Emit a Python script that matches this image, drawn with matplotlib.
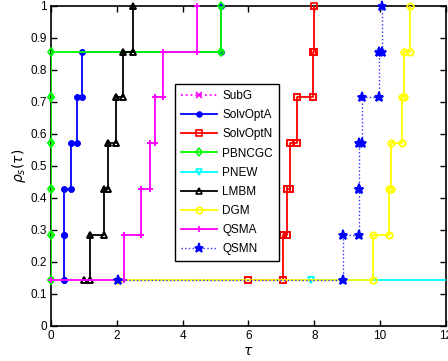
import matplotlib
matplotlib.use('Agg')
import matplotlib.pyplot as plt
import numpy as np

plt.rcParams['font.family'] = ['Liberation Sans', 'DejaVu Sans']

solvers = ['SubG', 'SolvOptA', 'SolvOptN', 'PBNCGC', 'PNEW', 'LMBM', 'DGM', 'QSMA', 'QSMN']
nan = np.nan

# log2 performance ratios for the 7 problems (nan = failed)
ratios = {
    'SubG':     [nan, nan, nan, nan, nan, nan, nan],
    'SolvOptA': [0.38, 0.38, 0.38, 0.6, 0.8, 0.95, 5.17],
    'SolvOptN': [6.0, 7.06, 7.18, 7.25, 7.48, 7.95, 8.0],
    'PBNCGC':   [0, 0, 0, 0, 0, 0, 5.17],
    'PNEW':     [7.9, nan, nan, nan, nan, nan, nan],
    'LMBM':     [1.01, 1.2, 1.6, 1.74, 1.97, 2.2, 2.48],
    'DGM':      [2.05, 9.77, 10.28, 10.33, 10.66, 10.74, 10.91],
    'QSMA':     [0, 2.22, 2.74, 3.0, 3.15, 3.39, 4.43],
    'QSMN':     [2.05, 8.87, 9.36, 9.36, 9.45, 9.97, 10.05],
}

styles = {
    'SubG':     dict(color='#ff00ff', ls=':', marker='x', mfc='#ff00ff'),
    'SolvOptA': dict(color='#0000ff', ls='-', marker='o', mfc='#0000ff', ms=3.5),
    'SolvOptN': dict(color='#ff0000', ls='-', marker='s', mfc='none'),
    'PBNCGC':   dict(color='#00ff00', ls='-', marker='d', mfc='none'),
    'PNEW':     dict(color='#00ffff', ls='-', marker='v', mfc='none'),
    'LMBM':     dict(color='k', ls='-', marker='^', mfc='none'),
    'DGM':      dict(color='#ffff00', ls='-', marker='o', mfc='none'),
    'QSMA':     dict(color='#ff00ff', ls='-', marker='+', mfc='#ff00ff'),
    'QSMN':     dict(color='#3030ff', ls=':', marker='*', mfc='#0000ff', mec='#0000ff', ms=6.5, lw=1.0),
}

fig = plt.figure(figsize=(4.48, 3.61), dpi=100)
ax = fig.add_axes([51/448, 1-326/361, 395/448, 320/361])

r_all = np.array([ratios[s] for s in solvers], dtype=float)
max_ratio = np.nanmax(r_all)
xmax = 1.1*max_ratio
np_ = r_all.shape[1]

for s in solvers:
    r = np.array(ratios[s], dtype=float)
    r[np.isnan(r)] = 2*max_ratio
    r = np.sort(r)
    y = np.arange(1, np_+1)/np_
    # matlab stairs corners
    xs = np.repeat(r, 2)[1:]
    ys = np.repeat(y, 2)[:-1]
    st = dict(styles[s])
    ms = st.pop('ms', 4.5)
    lw = st.pop('lw', 1.3)
    ax.plot(xs, ys, label=s, lw=lw, ms=ms, mew=1.2, **st)
    # markers on the axes edges are not clipped in the original
    inside = xs <= xmax
    st.pop('ls')
    ax.plot(xs[inside], ys[inside], ls='none', ms=ms, mew=1.2, clip_on=False, **st)

ax.set_xlim(0, xmax)
ax.set_ylim(0, 1)
ax.set_xticks(np.arange(0, 13, 2))
ax.set_yticks(np.arange(0, 1.01, 0.1))
ax.set_yticklabels(['0', '0.1', '0.2', '0.3', '0.4', '0.5', '0.6', '0.7', '0.8', '0.9', '1'])
ax.tick_params(direction='in', top=True, right=True, length=4, width=1, labelsize=8.5, pad=3)
for sp in ax.spines.values():
    sp.set_linewidth(1.2)
    sp.set_zorder(0.5)

ax.set_xlabel(r'$\tau$', fontsize=10, labelpad=1)
ax.set_ylabel(r'$\rho_s(\tau)$', fontsize=10, labelpad=2)

leg = ax.legend(loc='lower left', bbox_to_anchor=(0.3, 0.185), fontsize=8.5, fancybox=False,
                edgecolor='k', framealpha=1, handlelength=3.0, labelspacing=0.6,
                borderpad=0.5, handletextpad=0.45)
leg.get_frame().set_linewidth(1.0)
leg.set_zorder(5)

fig.savefig('out.png', dpi=100)
